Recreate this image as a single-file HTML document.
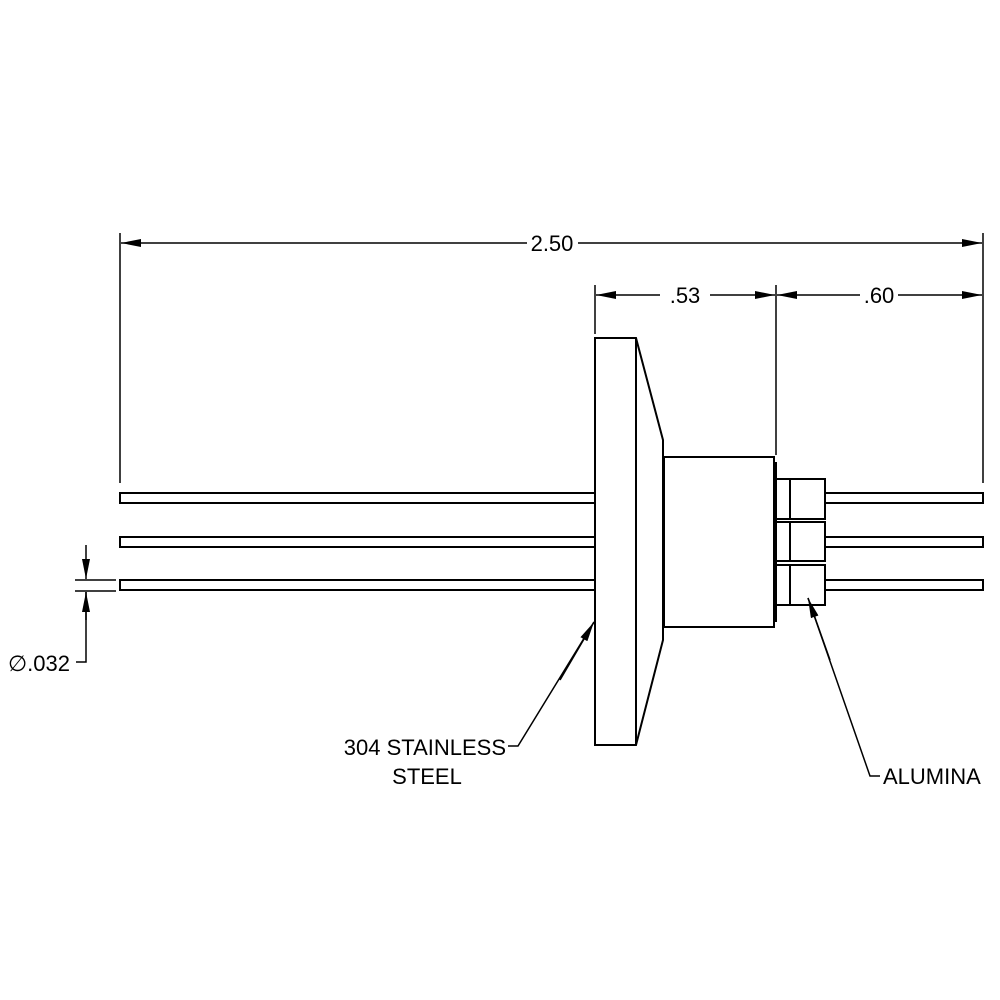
<!DOCTYPE html>
<html><head><style>body{margin:0;background:#fff}svg{display:block}text{font-family:"Liberation Sans",sans-serif;fill:#000}</style></head>
<body>
<svg width="1000" height="1000" viewBox="0 0 1000 1000" xmlns="http://www.w3.org/2000/svg">
<defs><marker id="a" viewBox="0 0 20 8" refX="20" refY="4" markerWidth="20" markerHeight="8" markerUnits="userSpaceOnUse" orient="auto"><path d="M0,0 L20,4 L0,8 z" fill="#000"/></marker></defs>
<g fill="none" stroke="#000" stroke-width="2">
<!-- wires -->
<rect x="120" y="493" width="475" height="10" fill="#fff"/>
<rect x="120" y="537" width="475" height="10" fill="#fff"/>
<rect x="120" y="580" width="475" height="10" fill="#fff"/>
<rect x="825" y="493" width="158" height="10"/>
<rect x="825" y="537" width="158" height="10"/>
<rect x="825" y="580" width="158" height="10"/>
<!-- flange -->
<path d="M595,338 L636,338 L663,440 L663,640 L636,745 L595,745 Z" fill="#fff"/>
<line x1="636" y1="338" x2="636" y2="745"/>
<rect x="664" y="457" width="110" height="170" fill="#fff"/>
<line x1="776" y1="462" x2="776" y2="622"/>
<!-- alumina -->
<rect x="776" y="479" width="14" height="40"/><rect x="790" y="479" width="35" height="40"/>
<rect x="776" y="522" width="14" height="39"/><rect x="790" y="522" width="35" height="39"/>
<rect x="776" y="565" width="14" height="40"/><rect x="790" y="565" width="35" height="40"/>
</g>
<g stroke="#000" stroke-width="1.5" fill="none">
<!-- extension lines -->
<line x1="120" y1="233" x2="120" y2="483"/>
<line x1="983" y1="233" x2="983" y2="483"/>
<line x1="595" y1="285" x2="595" y2="334"/>
<line x1="776" y1="285" x2="776" y2="455"/>
<!-- 2.50 -->
<line x1="300" y1="243" x2="121" y2="243" marker-end="url(#a)"/>
<line x1="300" y1="243" x2="527" y2="243"/>
<line x1="578" y1="243" x2="982" y2="243" marker-end="url(#a)"/>
<!-- .53 -->
<line x1="660" y1="295" x2="596" y2="295" marker-end="url(#a)"/>
<line x1="710" y1="295" x2="775" y2="295" marker-end="url(#a)"/>
<!-- .60 -->
<line x1="860" y1="295" x2="777" y2="295" marker-end="url(#a)"/>
<line x1="898" y1="295" x2="982" y2="295" marker-end="url(#a)"/>
<!-- dia -->
<line x1="75" y1="580" x2="116" y2="580"/>
<line x1="75" y1="591" x2="116" y2="591"/>
<line x1="86" y1="545" x2="86" y2="579" marker-end="url(#a)"/>
<polyline points="76,662 86,662 86,592" />
<line x1="86" y1="620" x2="86" y2="592" marker-end="url(#a)"/>
<!-- leaders -->
<polyline points="508,746 518,746 594,622"/>
<line x1="560" y1="680" x2="594" y2="622" marker-end="url(#a)"/>
<polyline points="880,776 870,776 808,598"/>
<line x1="830" y1="660" x2="808" y2="598" marker-end="url(#a)"/>
</g>
<g font-size="22">
<text x="552" y="251" text-anchor="middle">2.50</text>
<text x="685" y="303" text-anchor="middle">.53</text>
<text x="879" y="303" text-anchor="middle">.60</text>
<text x="8" y="671">∅.032</text>
<text x="506" y="755" text-anchor="end">304 STAINLESS</text>
<text x="427" y="784" text-anchor="middle">STEEL</text>
<text x="883" y="784">ALUMINA</text>
</g>
</svg>
</body></html>
